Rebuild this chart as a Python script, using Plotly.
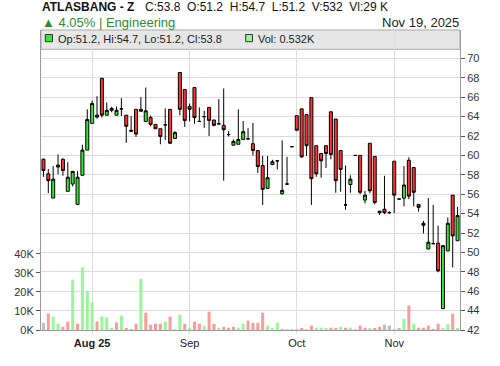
import plotly.graph_objects as go

# ---------------- data ----------------
dates = [
    "2025-07-20", "2025-07-21", "2025-07-22", "2025-07-23", "2025-07-24",
    "2025-07-27", "2025-07-28", "2025-07-29", "2025-07-30", "2025-07-31",
    "2025-08-03", "2025-08-04", "2025-08-06", "2025-08-07", "2025-08-10",
    "2025-08-11", "2025-08-12", "2025-08-13", "2025-08-14", "2025-08-17",
    "2025-08-18", "2025-08-19", "2025-08-20", "2025-08-21", "2025-08-24",
    "2025-08-25", "2025-08-26", "2025-08-27", "2025-08-28", "2025-08-31",
    "2025-09-01", "2025-09-02", "2025-09-03", "2025-09-04", "2025-09-07",
    "2025-09-08", "2025-09-09", "2025-09-10", "2025-09-11", "2025-09-14",
    "2025-09-15", "2025-09-16", "2025-09-17", "2025-09-18", "2025-09-21",
    "2025-09-22", "2025-09-23", "2025-09-24", "2025-09-25", "2025-09-28",
    "2025-09-29", "2025-09-30",
    "2025-10-05", "2025-10-06", "2025-10-07", "2025-10-08", "2025-10-09",
    "2025-10-12", "2025-10-13", "2025-10-14", "2025-10-15", "2025-10-16",
    "2025-10-19", "2025-10-20", "2025-10-21", "2025-10-22", "2025-10-23",
    "2025-10-26", "2025-10-27", "2025-10-28", "2025-10-29", "2025-10-30",
    "2025-11-02", "2025-11-03", "2025-11-04", "2025-11-05", "2025-11-06",
    "2025-11-09", "2025-11-10", "2025-11-11", "2025-11-12", "2025-11-13",
    "2025-11-16", "2025-11-17", "2025-11-18", "2025-11-19",
]

opens = [
    59.6, 58.1, 55.6, 58.8, 59.6, 56.3, 57.05, 54.95, 57.95, 60.55,
    63.3, 64.15, 67.95, 64.15, 64.65, 64.15, 64.8, 64.15, 62.6, 64.75,
    64.55, 63.5, 63.9, 63.2, 62.75, 63.15, 64.75, 61.75, 68.55, 66.8,
    65.05, 67.0, 63.5, 64.0, 64.95, 63.65, 63.25, 63.1, 62.15, 61.05,
    61.15, 61.65, 61.7, 61.2, 60.5, 58.95, 56.6, 59.05, 59.45, 56.05,
    57.05, 60.9, 64.1, 64.8, 64.2, 65.95, 61.0, 60.2, 61.0, 64.5,
    63.75, 60.5, 54.9, 57.0, 60.0, 60.0, 55.4, 61.25, 59.9, 54.25,
    54.45, 54.1, 59.4, 55.5, 55.6, 59.5, 58.75, 54.95, 53.0, 50.35,
    50.9, 50.95, 44.2, 50.15, 55.9, 51.2,
]
highs = [
    59.7, 58.6, 58.9, 60.1, 59.7, 59.3, 58.4, 58.4, 61.1, 64.75,
    65.65, 66.1, 67.95, 65.45, 65.0, 65.05, 65.9, 64.15, 64.05, 64.75,
    66.0, 67.0, 64.1, 63.2, 62.75, 64.85, 64.75, 62.5, 68.55, 66.8,
    65.35, 67.0, 64.95, 64.6, 64.95, 63.65, 65.8, 66.9, 62.5, 61.65,
    64.75, 63.55, 62.8, 63.35, 60.5, 59.95, 59.95, 59.55, 59.45, 61.55,
    59.85, 60.9, 64.1, 64.8, 64.2, 65.95, 61.0, 60.2, 61.0, 64.5,
    63.75, 60.5, 58.95, 57.95, 60.0, 60.0, 56.35, 61.25, 59.9, 54.25,
    57.9, 54.25, 59.4, 55.5, 58.9, 59.8, 58.75, 54.95, 53.25, 55.6,
    54.9, 52.75, 50.7, 53.6, 55.9, 54.7,
]
lows = [
    57.8, 56.1, 55.6, 58.05, 57.9, 56.3, 56.8, 54.95, 57.95, 60.55,
    63.3, 63.8, 63.9, 64.15, 64.45, 64.15, 64.05, 61.3, 62.4, 61.9,
    64.55, 63.5, 63.0, 62.75, 61.15, 61.6, 61.25, 61.75, 64.15, 62.95,
    63.5, 63.25, 63.45, 62.85, 62.0, 63.0, 63.25, 57.4, 61.95, 61.05,
    61.15, 61.65, 61.7, 60.0, 58.2, 54.9, 56.6, 59.05, 58.55, 55.95,
    56.95, 60.9, 62.5, 59.75, 59.95, 54.9, 57.8, 57.7, 58.7, 59.6,
    56.15, 56.25, 54.4, 56.15, 60.0, 56.0, 55.05, 56.1, 54.95, 53.85,
    53.95, 53.95, 54.05, 55.5, 54.75, 55.5, 54.75, 54.2, 51.95, 50.35,
    50.9, 47.95, 44.2, 50.15, 48.45, 51.2,
]
closes = [
    58.45, 57.4, 57.55, 59.0, 58.45, 57.75, 58.35, 57.75, 60.55, 63.7,
    65.35, 63.95, 64.15, 64.65, 64.85, 64.65, 64.8, 63.0, 62.5, 62.2,
    64.75, 64.6, 63.2, 62.75, 61.95, 63.15, 61.25, 62.35, 64.75, 63.6,
    64.75, 63.9, 63.5, 64.0, 63.6, 63.1, 63.25, 62.65, 62.15, 61.45,
    61.65, 62.45, 61.7, 60.5, 58.85, 56.5, 57.7, 59.35, 59.45, 56.4,
    57.05, 60.9, 62.6, 59.85, 61.0, 57.6, 58.1, 59.45, 60.2, 60.1,
    57.4, 58.55, 54.9, 57.55, 60.0, 56.2, 55.9, 56.35, 55.15, 54.1,
    54.1, 54.1, 55.9, 55.5, 56.95, 55.8, 56.2, 54.65, 52.8, 51.05,
    50.9, 48.1, 50.7, 53.0, 51.7, 53.8,
]
volumes = [
    3800, 8600, 7000, 3300, 1700, 4400, 26400, 3300, 32800, 20400,
    14500, 4500, 7000, 6600, 1200, 4000, 7500, 700, 100, 3300,
    26900, 9100, 2800, 3300, 3300, 4400, 7000, 200, 8000, 3300,
    700, 4400, 3300, 2300, 9600, 3300, 1200, 1700, 1200, 1700,
    1200, 3300, 4900, 3800, 3800, 9100, 2300, 700, 3800, 100,
    100, 100, 100, 700, 100, 2300, 700, 1200, 700, 1200,
    700, 1700, 1200, 1200, 100, 2300, 1200, 700, 700, 1700,
    2800, 2300, 100, 700, 5900, 12800, 3300, 1200, 1200, 2300,
    100, 3300, 700, 3000, 8500, 532,
]

price_ticks = [42, 44, 46, 48, 50, 52, 54, 56, 58, 60, 62, 64, 66, 68, 70]
vol_ticks = [0, 10000, 20000, 30000, 40000]
vol_tick_labels = ["0K", "10K", "20K", "30K", "40K"]
month_tick_dates = ["2025-08-03", "2025-09-01", "2025-10-05", "2025-11-02"]
month_tick_labels = ["<b>Aug 25</b>", "Sep", "Oct", "Nov"]

ticker = "ATLASBANG - Z"
sector = "Engineering"
date_label = "Nov 19, 2025"
avg_vol_label = "29 K"
change_pct = 4.05

# ---------------- styling ----------------
UP = "#33e833"
DOWN = "#ff3333"
VUP = "#99f599"
VDOWN = "#ff9a9a"
VFLAT = "#bdbdbd"
GRID = "#dcdcdc"
AXIS = "#9a9a9a"
FONT = "Arial, Liberation Sans, sans-serif"

vol_colors = []
for i, c in enumerate(closes):
    if i == 0 or c == closes[i - 1]:
        vol_colors.append(VFLAT)
    elif c > closes[i - 1]:
        vol_colors.append(VUP)
    else:
        vol_colors.append(VDOWN)

fig = go.Figure()
fig.add_trace(go.Bar(
    x=dates, y=volumes, yaxis="y2", marker=dict(color=vol_colors, line=dict(width=0)),
    showlegend=False, hoverinfo="skip",
))
fig.add_trace(go.Candlestick(
    x=dates, open=opens, high=highs, low=lows, close=closes,
    increasing=dict(line=dict(color="black", width=1), fillcolor=UP),
    decreasing=dict(line=dict(color="black", width=1), fillcolor=DOWN),
    whiskerwidth=0, showlegend=False, yaxis="y",
))

last = len(closes) - 1

L, R, T, B = 41, 40, 30, 36
W, H = 500, 366
pw, ph = W - L - R, H - T - B


def px(x):
    return (x - L) / pw


def py(y):
    return (H - B - y) / ph


annotations = [
    dict(text="<b>%s</b>" % ticker, x=px(40), y=py(7.2), xanchor="left", yanchor="middle",
         font=dict(size=12, color="#111", family=FONT)),
    dict(text="C:%.1f\u00a0\u00a0O:%.1f\u00a0\u00a0H:%.1f\u00a0\u00a0L:%.1f\u00a0\u00a0V:%d\u00a0\u00a0Vl:%s" % (
        closes[last], opens[last], highs[last], lows[last], volumes[last], avg_vol_label),
        x=px(143), y=py(7.2), xanchor="left", yanchor="middle",
        font=dict(size=12, color="#111", family=FONT)),
    dict(text="\u25b2 %.2f%% | %s" % (change_pct, sector), x=px(40), y=py(22.8), xanchor="left", yanchor="middle",
         font=dict(size=13, color="#2e8b2e", family=FONT)),
    dict(text=date_label, x=px(461.5), y=py(22.8), xanchor="right", yanchor="middle",
         font=dict(size=13, color="#222", family=FONT)),
    dict(text="Op:%.1f, Hi:%.1f, Lo:%.1f, Cl:%.1f" % (opens[last], highs[last], lows[last], closes[last]),
         x=px(55.7), y=py(39), xanchor="left", yanchor="middle",
         font=dict(size=11, color="#222", family=FONT)),
    dict(text="Vol: %.3fK" % (volumes[last] / 1000), x=px(255.7), y=py(39), xanchor="left", yanchor="middle",
         font=dict(size=11, color="#222", family=FONT)),
]
for a in annotations:
    a.update(xref="paper", yref="paper", showarrow=False)

shapes = [
    dict(type="rect", xref="paper", yref="paper", x0=0, x1=1, y0=py(49.3), y1=1,
         fillcolor="#e6e6e6", line=dict(color="#a8a8a8", width=1), layer="below"),
    dict(type="rect", xref="paper", yref="paper", x0=px(45.3), x1=px(52.5), y0=py(41.7), y1=py(34.5),
         fillcolor=UP, line=dict(color="#333", width=1)),
    dict(type="rect", xref="paper", yref="paper", x0=px(245.7), x1=px(252.5), y0=py(41.7), y1=py(34.5),
         fillcolor=VUP, line=dict(color="#333", width=1)),
]

fig.update_layout(
    width=W, height=H,
    margin=dict(l=L, r=R, t=T, b=B, pad=0),
    paper_bgcolor="white", plot_bgcolor="white",
    font=dict(family=FONT, size=11, color="#333"),
    showlegend=False,
    bargap=0.38,
    boxgap=0.12,
    annotations=annotations,
    shapes=shapes,
    xaxis=dict(
        type="category", range=[-0.5, len(dates) - 0.5],
        tickmode="array", tickvals=month_tick_dates, ticktext=month_tick_labels,
        showgrid=True, gridcolor=GRID, gridwidth=1,
        showline=True, linecolor=AXIS, linewidth=1,
        ticks="outside", ticklen=3, tickcolor=GRID,
        tickfont=dict(size=11, color="#222"),
        rangeslider=dict(visible=False), fixedrange=True,
    ),
    yaxis=dict(
        side="right", range=[42, 72.93],
        tickmode="array", tickvals=price_ticks,
        showgrid=True, gridcolor=GRID, gridwidth=1, zeroline=False,
        showline=True, linecolor=AXIS, linewidth=1,
        ticks="outside", ticklen=4, tickcolor="#555",
        tickfont=dict(size=11, color="#333"),
    ),
    yaxis2=dict(
        overlaying="y", side="left", range=[0, 157300],
        tickmode="array", tickvals=vol_ticks, ticktext=vol_tick_labels,
        showgrid=False, zeroline=False,
        showline=True, linecolor=AXIS, linewidth=1,
        ticks="outside", ticklen=4, tickcolor="#555",
        tickfont=dict(size=11, color="#333"),
    ),
)

fig.write_html("out.html")
